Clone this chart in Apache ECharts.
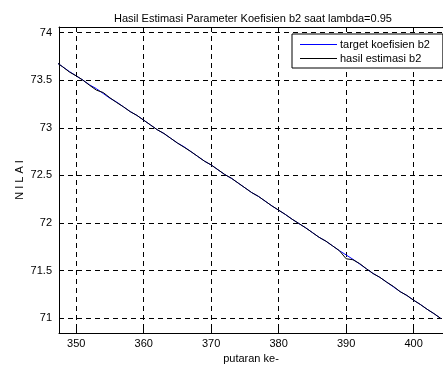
<!DOCTYPE html>
<html>
<head>
<meta charset="utf-8">
<script src="https://cdn.jsdelivr.net/npm/echarts@6/dist/echarts.min.js"></script>
<style>html,body{margin:0;padding:0;background:#fff}#c{width:443px;height:369px}</style>
</head>
<body>
<div id="c"></div>
<script>
var iterations = [347,348,349,350,351,352,353,354,355,356,357,358,359,360,361,362,363,364,365,366,367,368,369,370,371,372,373,374,375,376,377,378,379,380,381,382,383,384,385,386,387,388,389,390,391,392,393,394,395,396,397,398,399,400,401,402,403,404];
var targetB2 = [73.69,73.64,73.59,73.545,73.50,73.45,73.41,73.36,73.31,73.27,73.22,73.17,73.13,73.08,73.03,72.98,72.94,72.89,72.84,72.80,72.75,72.70,72.65,72.61,72.56,72.51,72.47,72.42,72.37,72.32,72.28,72.23,72.18,72.135,72.09,72.04,71.995,71.95,71.90,71.85,71.81,71.76,71.71,71.665,71.62,71.57,71.52,71.47,71.43,71.38,71.33,71.28,71.24,71.19,71.145,71.095,71.05,71.00];
var estimasiB2 = [73.69,73.64,73.585,73.545,73.50,73.445,73.395,73.37,73.315,73.265,73.22,73.17,73.13,73.08,73.03,72.98,72.94,72.89,72.84,72.795,72.75,72.70,72.65,72.61,72.56,72.51,72.47,72.42,72.37,72.32,72.28,72.23,72.18,72.135,72.09,72.04,71.995,71.95,71.90,71.85,71.81,71.76,71.71,71.625,71.615,71.575,71.52,71.47,71.43,71.38,71.335,71.28,71.24,71.19,71.145,71.095,71.05,71.00];
var xTicks = [350,360,370,380,390,400];
var yTicks = [71,71.5,72,72.5,73,73.5,74];

function pairs(xs, ys){ return xs.map(function(x,i){ return [x, ys[i]]; }); }

var font = 'Liberation Sans, Arial, sans-serif';
var chart = echarts.init(document.getElementById('c'));
var gridDash = {show:true, lineStyle:{color:'#000', type:[5,4], width:1}};
chart.setOption({
  animation:false,
  title:{text:'Hasil Estimasi Parameter Koefisien b2 saat lambda=0.95', left:248, textAlign:'center', top:8,
    textStyle:{fontFamily:font, fontSize:11, fontWeight:'normal', color:'#000'}},
  grid:{left:59, top:27, right:-2, bottom:35},
  legend:{orient:'vertical', left:292, top:34, backgroundColor:'#fff', borderColor:'#000', borderWidth:1,
    padding:[5,13,4,8], itemWidth:37, itemHeight:1, itemGap:3, icon:'rect',
    textStyle:{fontFamily:font, fontSize:11, color:'#000', padding:[0,0,0,-2]},
    data:[{name:'target koefisien b2', itemStyle:{color:'#0000ff'}},{name:'hasil estimasi b2', itemStyle:{color:'#000'}}]},
  xAxis:[{type:'value', min:347.45, max:404.35, position:'bottom',
    name:'putaran ke-', nameLocation:'middle', nameGap:20, nameMoveOverlap:false,
    nameTextStyle:{fontFamily:font, fontSize:11, color:'#000'},
    axisLine:{show:true, lineStyle:{color:'#000', width:1}},
    axisTick:{show:true, inside:true, length:5, customValues:xTicks, lineStyle:{color:'#000'}},
    axisLabel:{customValues:xTicks, margin:5, fontFamily:font, fontSize:11, color:'#000'},
    splitLine:gridDash},
   {type:'value', min:347.45, max:404.35, position:'top',
    axisLine:{show:true, lineStyle:{color:'#000', width:1}},
    axisTick:{show:true, inside:true, length:5, customValues:xTicks, lineStyle:{color:'#000'}},
    axisLabel:{show:false}, splitLine:{show:false}}],
  yAxis:[{type:'value', min:70.846, max:74.058,
    name:'N I L A I', nameLocation:'middle', nameGap:34, nameMoveOverlap:false,
    nameTextStyle:{fontFamily:font, fontSize:11, color:'#000'},
    axisLine:{show:true, lineStyle:{color:'#000', width:1}},
    axisTick:{show:true, inside:true, length:5, customValues:yTicks, lineStyle:{color:'#000'}},
    axisLabel:{customValues:yTicks, margin:7, fontFamily:font, fontSize:11, color:'#000'},
    splitLine:gridDash}],
  series:[
    {name:'target koefisien b2', type:'line', data:pairs(iterations, targetB2), symbol:'none',
      lineStyle:{color:'#0000ff', width:1}, itemStyle:{color:'#0000ff'}, z:2},
    {name:'hasil estimasi b2', type:'line', data:pairs(iterations, estimasiB2), symbol:'none',
      lineStyle:{color:'#000', width:1}, itemStyle:{color:'#000'}, z:3}
  ]
});
</script>
</body>
</html>
